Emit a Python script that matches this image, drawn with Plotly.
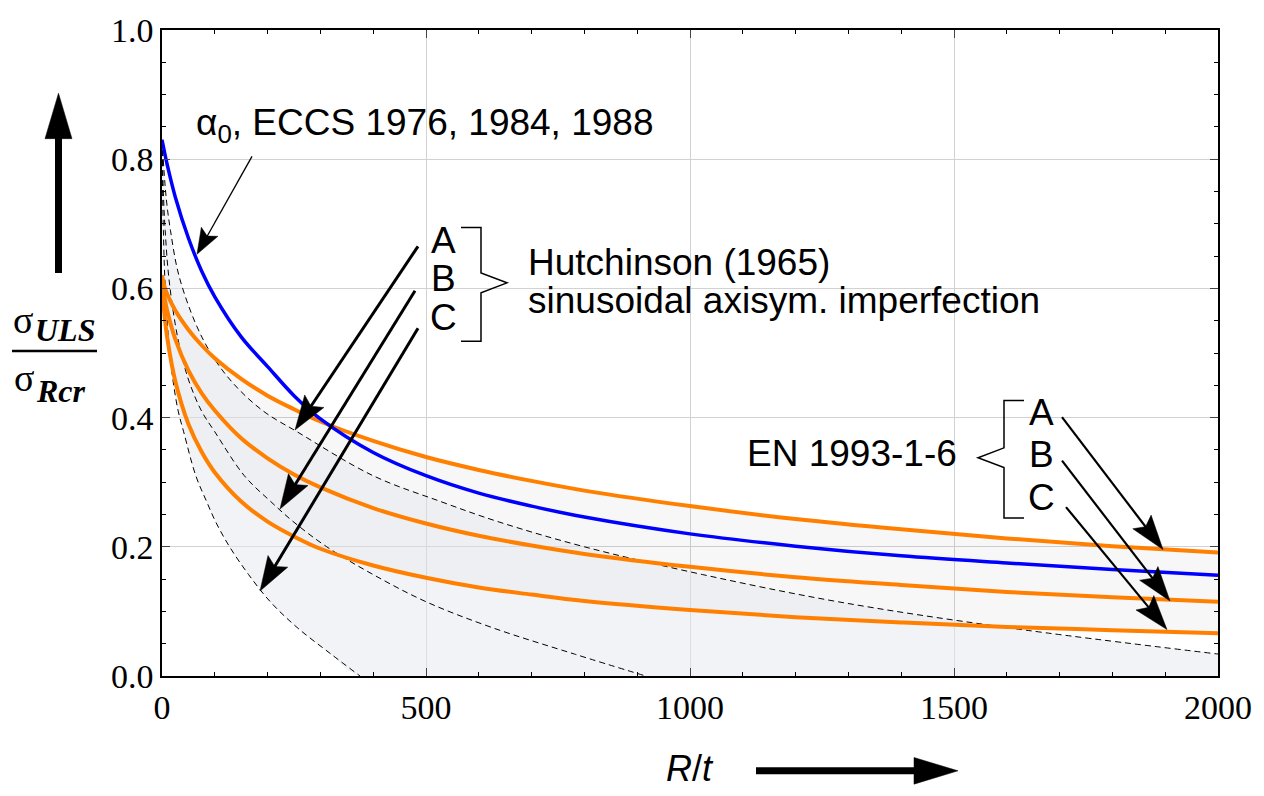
import plotly.graph_objects as go

# ---------------- data ----------------
RT = [0, 2, 5, 10, 25, 50, 75, 100, 150, 200, 250, 300, 400, 500, 600, 700, 800,
      1000, 1200, 1400, 1600, 1800, 2000]
ECCS = [0.830, 0.822, 0.810, 0.791, 0.742, 0.678, 0.627, 0.587, 0.525, 0.479, 0.434,
        0.398, 0.346, 0.310, 0.283, 0.263, 0.246, 0.220, 0.201, 0.186, 0.175, 0.165, 0.156]
EN_A = [0.620, 0.611, 0.602, 0.591, 0.566, 0.536, 0.512, 0.492, 0.460, 0.434, 0.413,
        0.394, 0.364, 0.339, 0.319, 0.302, 0.287, 0.263, 0.243, 0.227, 0.213, 0.201, 0.191]
EN_B = [0.620, 0.602, 0.585, 0.565, 0.522, 0.473, 0.438, 0.411, 0.368, 0.337, 0.312,
        0.292, 0.260, 0.236, 0.217, 0.202, 0.189, 0.169, 0.153, 0.141, 0.130, 0.122, 0.115]
EN_C = [0.620, 0.586, 0.557, 0.523, 0.457, 0.390, 0.347, 0.315, 0.270, 0.239, 0.216,
        0.197, 0.171, 0.152, 0.137, 0.126, 0.116, 0.102, 0.091, 0.083, 0.076, 0.071, 0.066]

HUT_A_RT = [0, 8, 16, 32, 64, 96, 136, 192, 256, 400, 528, 640, 800, 1024, 1280, 1600, 2000]
HUT_A = [0.83, 0.74, 0.69, 0.62, 0.545, 0.495, 0.452, 0.41, 0.378, 0.31, 0.27, 0.238,
         0.200, 0.157, 0.115, 0.075, 0.034]
HUT_B_RT = [0, 3, 6, 12.5, 25, 37.5, 53, 75, 100, 156, 206, 250, 312, 400, 500, 625, 781, 916]
HUT_B = [0.83, 0.74, 0.69, 0.62, 0.545, 0.495, 0.452, 0.41, 0.378, 0.31, 0.27, 0.238,
         0.200, 0.157, 0.115, 0.075, 0.034, 0.0]
HUT_C_RT = [0, 1.3, 2.6, 5.1, 10.2, 15.4, 21.8, 30.7, 41, 64, 84.5, 102, 128, 164, 205,
            256, 320, 375]
HUT_C = [0.83, 0.74, 0.69, 0.62, 0.545, 0.495, 0.452, 0.41, 0.378, 0.31, 0.27, 0.238,
         0.200, 0.157, 0.115, 0.075, 0.034, 0.0]

X_TICKS = [0, 500, 1000, 1500, 2000]
Y_TICKS = [0.0, 0.2, 0.4, 0.6, 0.8, 1.0]
Y_TICK_TEXT = ["0.0", "0.2", "0.4", "0.6", "0.8", "1.0"]

# ---------------- layout geometry ----------------
W, H = 1264, 796
ML, MR, MT, MB = 162, 46, 22, 120
PW, PH = W - ML - MR, H - MT - MB


def px(xp, yp):
    """pixel position -> paper coordinates"""
    return (xp - ML) / PW, (H - MB - yp) / PH


ORANGE = "#ff8000"
BLUE = "#0000ff"
SANS = "Liberation Sans, Arial, sans-serif"
SERIF = "Liberation Serif, Times New Roman, serif"

fig = go.Figure()

# ---- fills ----
# band between EN A and EN C
fig.add_trace(go.Scatter(x=RT, y=EN_A, mode="lines",
                         line=dict(width=0, shape="spline"), hoverinfo="skip"))
fig.add_trace(go.Scatter(x=RT, y=EN_C, mode="lines", fill="tonexty",
                         fillcolor="rgba(0,0,0,0.032)",
                         line=dict(width=0, shape="spline"), hoverinfo="skip"))
# area under Hutchinson A, above Hutchinson C (and above axis)
fig.add_trace(go.Scatter(x=HUT_C_RT + [X_TICKS[-1]], y=HUT_C + [0.0], mode="lines",
                         line=dict(width=0, shape="spline"), hoverinfo="skip"))
fig.add_trace(go.Scatter(x=HUT_A_RT, y=HUT_A, mode="lines", fill="tonexty",
                         fillcolor="rgba(229,231,237,0.5)",
                         line=dict(width=0, shape="spline"), hoverinfo="skip"))

# ---- dashed Hutchinson curves ----
for xs, ys in [(HUT_A_RT, HUT_A), (HUT_B_RT, HUT_B), (HUT_C_RT, HUT_C)]:
    fig.add_trace(go.Scatter(x=xs, y=ys, mode="lines",
                             line=dict(color="black", width=1, dash="6px,4px", shape="spline")))
# ---- EN curves ----
for ys in [EN_A, EN_B, EN_C]:
    fig.add_trace(go.Scatter(x=RT, y=ys, mode="lines",
                             line=dict(color=ORANGE, width=4, shape="spline")))
# ---- ECCS ----
fig.add_trace(go.Scatter(x=RT, y=ECCS, mode="lines",
                         line=dict(color=BLUE, width=3.5, shape="spline")))

shapes = []
annotations = []


def arrow(tail, tip, lw, hlen, hwid, notch=0.0):
    tx, ty = tail
    hx, hy = tip
    dx, dy = hx - tx, hy - ty
    L = (dx * dx + dy * dy) ** 0.5
    ux, uy = dx / L, dy / L
    nx, ny = -uy, ux
    bx, by = hx - ux * hlen, hy - uy * hlen
    lx, ly = bx + nx * hwid / 2, by + ny * hwid / 2
    rx, ry = bx - nx * hwid / 2, by - ny * hwid / 2
    kx, ky = bx + ux * notch, by + uy * notch
    p0 = px(tx, ty)
    p1 = px(kx + ux * 1, ky + uy * 1)
    shapes.append(dict(type="line", xref="paper", yref="paper", x0=p0[0], y0=p0[1],
                       x1=p1[0], y1=p1[1], line=dict(color="black", width=lw)))
    pts = [px(hx, hy), px(lx, ly), px(kx, ky), px(rx, ry)]
    path = "M " + " L ".join(f"{a:.5f},{b:.5f}" for a, b in pts) + " Z"
    shapes.append(dict(type="path", xref="paper", yref="paper", path=path,
                       fillcolor="black", line=dict(color="black", width=0.5)))


def polyline(points, lw=1.5):
    pts = [px(a, b) for a, b in points]
    path = "M " + " L ".join(f"{a:.5f},{b:.5f}" for a, b in pts)
    shapes.append(dict(type="path", xref="paper", yref="paper", path=path,
                       line=dict(color="black", width=lw)))


def text(t, xp, yp, size=37, font=SANS, xanchor="center", yanchor="middle"):
    x, y = px(xp, yp)
    annotations.append(dict(text=t, x=x, y=y, xref="paper", yref="paper",
                            xanchor=xanchor, yanchor=yanchor, showarrow=False,
                            font=dict(family=font, size=size, color="black")))


# ECCS label + arrow
text("α<sub>0</sub>, ECCS 1976, 1984, 1988", 194, 118, xanchor="left")
arrow((252, 150), (197, 249), 1.3, 26, 19, 5)

# Hutchinson arrows, letters, bracket, text
arrow((418, 241), (295, 427), 3, 35, 23, 6)
arrow((415, 286), (280, 507), 3, 35, 23, 6)
arrow((418, 324), (260, 590), 3, 35, 23, 6)
for lab, yy in zip(["A", "B", "C"], [235, 274, 313]):
    text(lab, 443, yy)
polyline([(461, 222), (481, 222), (481, 268), (507, 278), (481, 288), (481, 337), (461, 337)])
text("Hutchinson (1965)", 526, 257, xanchor="left")
text("sinusoidal axisym. imperfection", 526, 296, xanchor="left")

# EN 1993-1-6 bracket, letters, arrows
text("EN 1993-1-6", 959, 451, xanchor="right")
polyline([(1024, 397), (1004, 397), (1004, 445), (978, 455), (1004, 465), (1004, 516), (1024, 516)])
for lab, yy in zip(["A", "B", "C"], [409, 452, 495]):
    text(lab, 1041, yy)
arrow((1062, 414), (1163, 548), 2.2, 35, 23, 6)
arrow((1062, 458), (1170, 600), 2.2, 35, 23, 6)
arrow((1066, 505), (1167, 629), 2.2, 35, 23, 6)

# axis labels with big arrows
arrow((58.5, 268), (58.5, 86), 7, 46, 27, 0)
arrow((756, 772), (958, 772), 7, 44, 27, 0)
text("<i>R</i>/<i>t</i>", 690, 770, size=36)

# y label fraction
text("σ", 23, 316, size=38, font=SERIF)
text("<b><i>ULS</i></b>", 65, 326, size=32, font=SERIF)
a0, b0 = px(12, 347)
a1, b1 = px(97, 347)
shapes.append(dict(type="line", xref="paper", yref="paper", x0=a0, y0=b0, x1=a1, y1=b1,
                   line=dict(color="black", width=2.5)))
text("σ", 24, 374, size=38, font=SERIF)
text("<b><i>Rcr</i></b>", 61, 387, size=32, font=SERIF)

axis_common = dict(showline=True, linecolor="black", linewidth=1.5, mirror="allticks",
                   ticks="inside", ticklen=8, tickwidth=1.2, tickcolor="#444",
                   showgrid=True, gridcolor="#d2d2d2", gridwidth=1, zeroline=False,
                   tickfont=dict(family=SERIF, size=34, color="black"))

fig.update_layout(
    width=W, height=H, margin=dict(l=ML, r=MR, t=MT, b=MB),
    paper_bgcolor="white", plot_bgcolor="white", showlegend=False,
    xaxis=dict(range=[0, 2000], tickvals=X_TICKS, ticktext=[str(v) for v in X_TICKS],
               minor=dict(dtick=100, ticks="inside", ticklen=4, tickcolor="black",
                          showgrid=False),
               **axis_common),
    yaxis=dict(range=[0, 1], tickvals=Y_TICKS, ticktext=Y_TICK_TEXT,
               minor=dict(dtick=0.05, ticks="inside", ticklen=4, tickcolor="black",
                          showgrid=False),
               **axis_common),
    shapes=shapes, annotations=annotations,
)

fig.write_html("out.html")
